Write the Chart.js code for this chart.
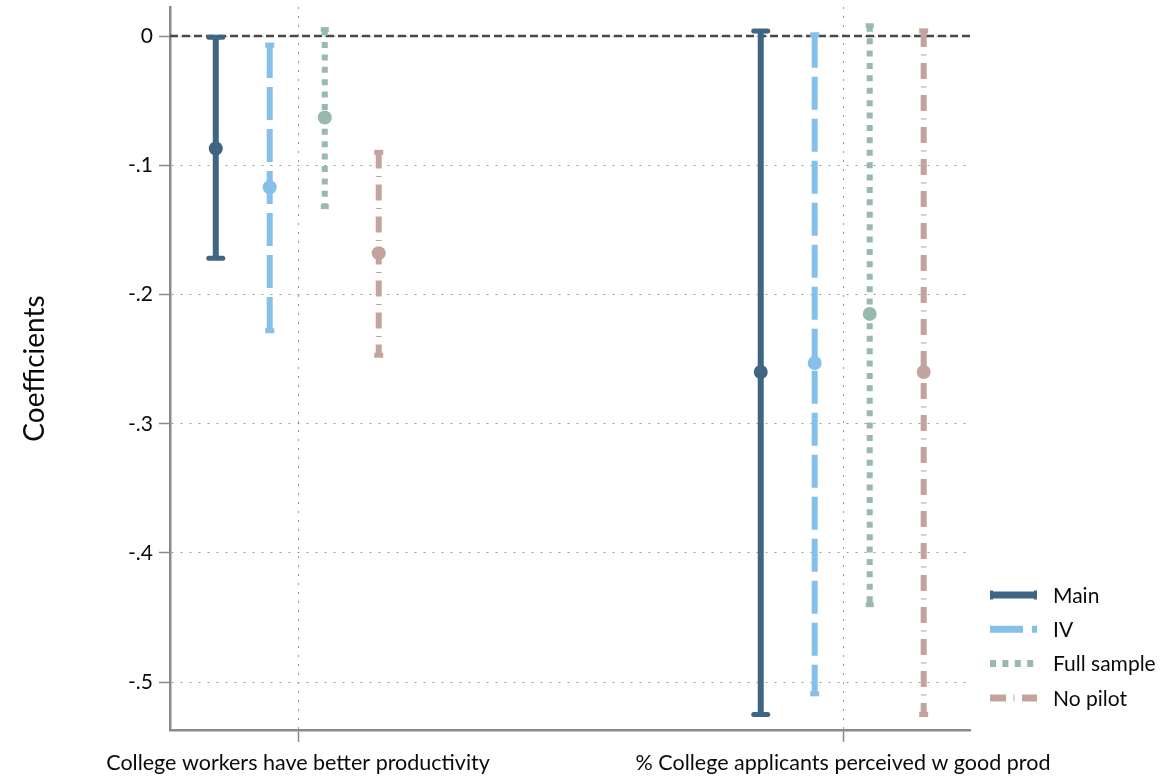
<!DOCTYPE html>
<html>
<head>
<meta charset="utf-8">
<script src="https://cdn.jsdelivr.net/npm/chart.js@4.4.1/dist/chart.umd.min.js"></script>
<style>
  html, body { margin: 0; padding: 0; background: #fff; }
  #wrap { width: 1166px; height: 781px; }
</style>
</head>
<body>
<div id="wrap"><canvas id="chart" width="1166" height="781"></canvas></div>
<script>
// Categories (x axis) and series
const categories = ['College workers have better productivity', '% College applicants perceived w good prod'];
const seriesNames = ['Main', 'IV', 'Full sample', 'No pilot'];

// Point estimates and confidence bounds, one value per category
const mainCoef = [-0.087, -0.260];
const mainLo   = [-0.172, -0.525];
const mainHi   = [-0.001,  0.004];

const ivCoef = [-0.117, -0.253];
const ivLo   = [-0.228, -0.509];
const ivHi   = [-0.007,  0.001];

const fullCoef = [-0.063, -0.215];
const fullLo   = [-0.132, -0.440];
const fullHi   = [ 0.005,  0.008];

const noPilotCoef = [-0.168, -0.260];
const noPilotLo   = [-0.247, -0.525];
const noPilotHi   = [-0.090,  0.004];

// Y axis ticks
const yTicks      = [0, -0.1, -0.2, -0.3, -0.4, -0.5];
const yTickLabels = ['0', '-.1', '-.2', '-.3', '-.4', '-.5'];

// --- styling -------------------------------------------------------------
const FONT = 'Lato';
const TEXT = '#0a0a0a';
const AXIS = '#8a8a8a';
const GRID = '#9a9a9a';

// horizontal offset of each series inside a category (axis units)
const OFFSETS = [-0.151, -0.052, 0.049, 0.148];

const STYLES = [
    { color: '#3e6582', dash: [],                capHalf: 7,   capRound: true  },
    { color: '#85c0ea', dash: [33, 9],           capHalf: 4.5, capRound: false },
    { color: '#97b9b0', dash: [6, 6.4],          capHalf: 4,   capRound: false },
    { color: '#c2a39e', dash: [16, 7.5, 1, 7.5], capHalf: 4.5, capRound: false },
];

const series = [
    { coef: mainCoef,    lo: mainLo,    hi: mainHi },
    { coef: ivCoef,      lo: ivLo,      hi: ivHi },
    { coef: fullCoef,    lo: fullLo,    hi: fullHi },
    { coef: noPilotCoef, lo: noPilotLo, hi: noPilotHi },
];

Chart.defaults.font.family = FONT;
Chart.defaults.color = TEXT;

// Build datasets: CI lines (drawn by the line element) and point estimates
const datasets = [];
series.forEach((s, k) => {
    const ci = [];
    categories.forEach((_, i) => {
        const x = i + 1 + OFFSETS[k];
        ci.push({ x, y: s.hi[i] }, { x, y: s.lo[i] });
        if (i < categories.length - 1) ci.push({ x: x + 0.5, y: null });
    });
    datasets.push({
        label: seriesNames[k] + ' CI',
        data: ci,
        showLine: true,
        spanGaps: false,
        borderColor: STYLES[k].color,
        borderWidth: 6,
        borderDash: STYLES[k].dash,
        borderCapStyle: 'butt',
        pointRadius: 0,
        pointHoverRadius: 0,
        order: 2,
    });
});
series.forEach((s, k) => {
    datasets.push({
        label: seriesNames[k],
        data: s.coef.map((v, i) => ({ x: i + 1 + OFFSETS[k], y: v })),
        showLine: false,
        backgroundColor: STYLES[k].color,
        borderWidth: 0,
        pointRadius: 7,
        pointHoverRadius: 7,
        order: 1,
    });
});

// dashed reference line at zero
const zeroLine = {
    id: 'zeroLine',
    beforeDatasetsDraw(chart) {
        const { ctx, chartArea, scales } = chart;
        const y = scales.y.getPixelForValue(0);
        ctx.save();
        ctx.strokeStyle = '#484848';
        ctx.lineWidth = 2.5;
        ctx.setLineDash([8, 4]);
        ctx.beginPath();
        ctx.moveTo(chartArea.left, y);
        ctx.lineTo(chartArea.right, y);
        ctx.stroke();
        ctx.restore();
    },
};

// end caps of the confidence intervals
const ciCaps = {
    id: 'ciCaps',
    afterDatasetsDraw(chart) {
        const { ctx, scales } = chart;
        ctx.save();
        series.forEach((s, k) => {
            const st = STYLES[k];
            ctx.strokeStyle = st.color;
            ctx.lineWidth = 5;
            ctx.lineCap = st.capRound ? 'round' : 'butt';
            categories.forEach((_, i) => {
                const x = scales.x.getPixelForValue(i + 1 + OFFSETS[k]);
                [s.hi[i], s.lo[i]].forEach(v => {
                    const y = scales.y.getPixelForValue(v);
                    ctx.beginPath();
                    ctx.moveTo(x - st.capHalf, y);
                    ctx.lineTo(x + st.capHalf, y);
                    ctx.stroke();
                });
            });
        });
        ctx.restore();
    },
};

// legend on the right, bottom aligned
const sideLegend = {
    id: 'sideLegend',
    afterDraw(chart) {
        const { ctx } = chart;
        const x0 = 990, x1 = 1037, tx = 1053;
        ctx.save();
        ctx.font = '21px ' + FONT;
        ctx.textBaseline = 'middle';
        ctx.fillStyle = TEXT;
        seriesNames.forEach((name, k) => {
            const y = 595 + k * 34.3;
            const st = STYLES[k];
            ctx.strokeStyle = st.color;
            ctx.lineWidth = 7;
            ctx.lineCap = 'butt';
            ctx.setLineDash(st.dash);
            ctx.beginPath();
            ctx.moveTo(x0, y);
            ctx.lineTo(x1, y);
            ctx.stroke();
            ctx.setLineDash([]);
            if (k === 0) {
                ctx.lineWidth = 9;
                ctx.beginPath();
                ctx.moveTo(x0, y); ctx.lineTo(x0 + 3, y);
                ctx.moveTo(x1 - 3, y); ctx.lineTo(x1, y);
                ctx.stroke();
            }
            ctx.fillText(name, tx, y + 1);
        });
        ctx.restore();
    },
};

new Chart(document.getElementById('chart'), {
    type: 'scatter',
    data: { datasets },
    options: {
        responsive: false,
        animation: false,
        events: [],
        layout: { padding: { top: 6, right: 196, left: 0, bottom: 0 } },
        plugins: {
            legend: { display: false },
            tooltip: { enabled: false },
        },
        scales: {
            x: {
                type: 'linear',
                min: 0.765,
                max: 2.233,
                afterBuildTicks: (scale) => { scale.ticks = categories.map((_, i) => ({ value: i + 1 })); },
                afterFit: (scale) => {
                    scale.height = 51;
                    scale.paddingLeft = 0;
                    scale.paddingRight = 0;
                },
                ticks: {
                    autoSkip: false,
                    maxRotation: 0,
                    minRotation: 0,
                    padding: 8,
                    color: TEXT,
                    font: { size: 21.5 },
                    callback: (v) => categories[Math.round(v) - 1],
                },
                grid: {
                    color: GRID, lineWidth: 1, borderDash: [2, 7],
                    tickColor: AXIS, tickWidth: 1.5, tickLength: 12,
                },
                border: { color: AXIS, width: 2.5, dash: [2, 7] },
            },
            y: {
                min: -0.537,
                max: 0.0225,
                afterBuildTicks: (scale) => { scale.ticks = yTicks.map(v => ({ value: v })); },
                afterFit: (scale) => {
                    scale.width = 170;
                    scale.paddingTop = 0;
                    scale.paddingBottom = 0;
                },
                ticks: {
                    padding: 6,
                    color: TEXT,
                    font: { size: 21 },
                    callback: (v, i) => yTickLabels[i],
                },
                grid: {
                    color: GRID, lineWidth: 1, borderDash: [2, 7],
                    tickColor: AXIS, tickWidth: 1.5, tickLength: 11,
                },
                border: { color: AXIS, width: 2.5, dash: [2, 7] },
                title: {
                    display: true,
                    text: 'Coefficients',
                    color: TEXT,
                    font: { size: 28 },
                    padding: { top: 18 },
                },
            },
        },
    },
    plugins: [zeroLine, ciCaps, sideLegend],
});
</script>
</body>
</html>
